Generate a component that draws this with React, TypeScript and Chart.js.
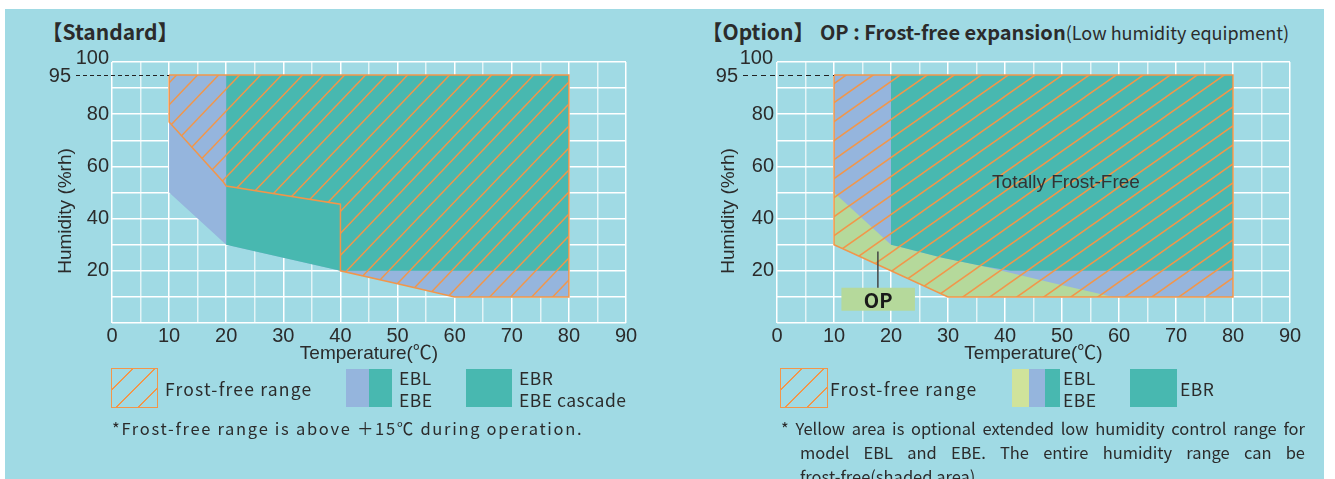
import React, { useEffect, useRef } from 'react';
import { Chart, registerables } from 'chart.js';

Chart.register(...registerables);

// ---------------- data ----------------
// axis ticks
const xTickValues = [0, 10, 20, 30, 40, 50, 60, 70, 80, 90];
const yTickValues = [20, 40, 60, 80];
const yTopTick = 100;
const maxHumidityLevel = 95;
const dashStartTemp = 10;

// Standard chart polygons: [temperature °C, humidity %rh]
const stdEblEbeArea = [[10, 95], [80, 95], [80, 10], [60, 10], [50, 15], [40, 20], [20, 30], [10, 50]];
const stdEbrArea = [[20, 95], [80, 95], [80, 20], [40, 20], [20, 30]];
const stdFrostFreeRange = [[10, 95], [80, 95], [80, 10], [60, 10], [50, 15], [40, 20], [40, 45.5], [20, 52.5], [19.5, 54], [10, 77], [10, 95]];

// Option chart polygons
const optEblEbeArea = [[10, 95], [80, 95], [80, 10], [30, 10], [20, 20], [10, 30]];
const optOpArea = [[10, 50], [20, 30], [22, 28.9], [29, 25], [36, 21.8], [48, 15.5], [59, 10], [30, 10], [20, 20], [10, 30]];
const optEbrArea = [[20, 95], [80, 95], [80, 20], [41, 20], [36, 21.8], [29, 25], [22, 28.9], [20, 30]];
const optFrostFreeRange = [[10, 95], [80, 95], [80, 10], [30, 10], [20, 20], [10, 30], [10, 95]];

// annotations (data coordinates)
const totallyFrostFreeLabel = { text: 'Totally Frost-Free', x: 50.7, y: 53.8 };
const opLabel = { text: 'OP', x0: 11.3, x1: 24.2, y0: 4.7, y1: 13.5, leaderX: 17.7, leaderTop: 27.4 };

// axis titles
const xAxisTitle = 'Temperature(℃)';
const yAxisTitle = 'Humidity (%rh)';

// ---------------- styles ----------------
const PANEL = '#A0DAE4';
const TEAL = '#48B8B0';
const BLUE = '#95B5DD';
const YELLOW = '#B5D99B';
const YELLOW_LEGEND = '#D0E39B';
const ORANGE = '#F2964A';
const TEXT = '#2b2b2b';
const TICK_FONT = '"Liberation Sans", Arial, "Noto Sans CJK JP", sans-serif';
const JP_FONT = '"Noto Sans CJK JP", "Noto Sans", sans-serif';

type Pt = number[];
type Layer = { points: Pt[]; color: string; order: number };

type Spec = {
  left: number; top: number; w: number; h: number;
  axisWidth: number; padRight: number; padTop: number; xAxisHeight: number;
  yTitlePad: number; xTitlePad: number;
  layers: Layer[];
  frost: Pt[];
  hatchW: number; hatchH: number;
  topDx: number; dashLabelDx: number; dashStartDx: number; dash: number[];
  extras?: boolean;
};

function makeHatch(w: number, h: number): CanvasPattern | string {
  const c = document.createElement('canvas');
  c.width = w;
  c.height = h;
  const g = c.getContext('2d');
  if (!g) return ORANGE;
  g.strokeStyle = ORANGE;
  g.lineWidth = 1.5;
  for (const k of [-1, 0, 1]) {
    g.beginPath();
    g.moveTo(k * w - w, 2 * h);
    g.lineTo((k + 1) * w + w, -h);
    g.stroke();
  }
  const p = g.createPattern(c, 'repeat');
  return p || ORANGE;
}

const toXY = (pts: Pt[]) => pts.map(([x, y]) => ({ x, y }));

function buildConfig(spec: Spec): any {
  const hatch = makeHatch(spec.hatchW, spec.hatchH);
  const datasets: any[] = spec.layers.map((l) => ({
    data: toXY(l.points),
    showLine: true,
    fill: 'shape',
    backgroundColor: l.color,
    borderColor: 'transparent',
    borderWidth: 0,
    pointRadius: 0,
    pointHoverRadius: 0,
    order: l.order,
  }));
  datasets.push({
    data: toXY(spec.frost),
    showLine: true,
    fill: 'shape',
    backgroundColor: hatch,
    borderColor: ORANGE,
    borderWidth: 1.5,
    pointRadius: 0,
    pointHoverRadius: 0,
    order: 0,
  });

  const overlay = {
    id: 'overlay',
    afterDatasetsDraw(chart: any) {
      const { ctx, chartArea, scales } = chart;
      const x = scales.x;
      const y = scales.y;
      ctx.save();
      ctx.fillStyle = TEXT;
      ctx.font = `20px ${TICK_FONT}`;
      ctx.textAlign = 'right';
      ctx.textBaseline = 'middle';
      ctx.fillText(String(yTopTick), chartArea.left - spec.topDx, y.getPixelForValue(yTopTick) - 4);
      ctx.fillText(String(maxHumidityLevel), chartArea.left - spec.dashLabelDx, y.getPixelForValue(maxHumidityLevel) + 1);
      const yy = Math.round(y.getPixelForValue(maxHumidityLevel)) + 0.5;
      ctx.strokeStyle = '#222';
      ctx.lineWidth = 1;
      ctx.setLineDash(spec.dash);
      ctx.beginPath();
      ctx.moveTo(chartArea.left - spec.dashStartDx, yy);
      ctx.lineTo(x.getPixelForValue(dashStartTemp), yy);
      ctx.stroke();
      ctx.setLineDash([]);
      if (spec.extras) {
        ctx.textAlign = 'center';
        ctx.font = `19px ${TICK_FONT}`;
        ctx.fillStyle = '#333';
        ctx.fillText(totallyFrostFreeLabel.text, x.getPixelForValue(totallyFrostFreeLabel.x), y.getPixelForValue(totallyFrostFreeLabel.y));
        // OP box
        const bx0 = x.getPixelForValue(opLabel.x0);
        const bx1 = x.getPixelForValue(opLabel.x1);
        const by0 = y.getPixelForValue(opLabel.y1);
        const by1 = y.getPixelForValue(opLabel.y0);
        ctx.fillStyle = YELLOW;
        ctx.fillRect(bx0, by0, bx1 - bx0, by1 - by0);
        ctx.strokeStyle = '#444';
        ctx.lineWidth = 1.5;
        ctx.beginPath();
        const lx = x.getPixelForValue(opLabel.leaderX);
        ctx.moveTo(lx, y.getPixelForValue(opLabel.leaderTop));
        ctx.lineTo(lx, by0);
        ctx.stroke();
        ctx.fillStyle = '#1a1a1a';
        ctx.font = `bold 20px ${JP_FONT}`;
        ctx.fillText(opLabel.text, (bx0 + bx1) / 2, (by0 + by1) / 2 + 1);
      }
      ctx.restore();
    },
  };

  return {
    type: 'scatter',
    data: { datasets },
    plugins: [overlay],
    options: {
      animation: false,
      responsive: false,
      devicePixelRatio: 1,
      events: [],
      layout: { padding: { left: 0, right: spec.padRight, top: spec.padTop, bottom: 0 } },
      plugins: { legend: { display: false }, tooltip: { enabled: false }, title: { display: false } },
      scales: {
        x: {
          type: 'linear',
          min: 0,
          max: 90,
          afterBuildTicks: (s: any) => {
            const t: any[] = [];
            for (let v = 0; v <= 90; v += 5) t.push({ value: v });
            s.ticks = t;
          },
          afterFit: (s: any) => {
            s.height = spec.xAxisHeight;
            s.paddingLeft = 0;
            s.paddingRight = 0;
          },
          ticks: {
            autoSkip: false,
            maxRotation: 0,
            padding: 1,
            color: TEXT,
            font: { family: TICK_FONT, size: 20 },
            callback: (v: any) => (xTickValues.includes(Number(v)) ? String(v) : ''),
          },
          grid: {
            drawTicks: false,
            lineWidth: 1.5,
            color: (c: any) => (c.tick && c.tick.value % 10 === 0 ? '#ffffff' : 'rgba(255,255,255,0.7)'),
          },
          border: { display: false },
          title: {
            display: true,
            text: xAxisTitle,
            color: TEXT,
            font: { family: TICK_FONT, size: 19 },
            padding: { top: 0, bottom: spec.xTitlePad },
          },
        },
        y: {
          type: 'linear',
          min: 0,
          max: 100,
          afterBuildTicks: (s: any) => {
            const t: any[] = [];
            for (let v = 0; v <= 100; v += 10) t.push({ value: v });
            s.ticks = t;
          },
          afterFit: (s: any) => {
            s.width = spec.axisWidth;
            s.paddingTop = 0;
            s.paddingBottom = 0;
          },
          ticks: {
            autoSkip: false,
            padding: 3,
            color: TEXT,
            font: { family: TICK_FONT, size: 20 },
            callback: (v: any) => (yTickValues.includes(Number(v)) ? String(v) : ''),
          },
          grid: { drawTicks: false, lineWidth: 1.5, color: '#ffffff' },
          border: { display: false },
          title: {
            display: true,
            // trailing spaces shift the centred rotated title downwards, as in the source
            text: yAxisTitle + '\u00a0\u00a0\u00a0\u00a0\u00a0\u00a0\u00a0',
            color: TEXT,
            font: { family: TICK_FONT, size: 19 },
            padding: { top: spec.yTitlePad, bottom: 0 },
          },
        },
      },
    },
  };
}

const leftSpec: Spec = {
  left: 0, top: 40, w: 660, h: 332,
  axisWidth: 112, padRight: 34, padTop: 22, xAxisHeight: 49,
  yTitlePad: 54.6, xTitlePad: 6.6,
  layers: [
    { points: stdEblEbeArea, color: BLUE, order: 3 },
    { points: stdEbrArea, color: TEAL, order: 2 },
  ],
  frost: stdFrostFreeRange,
  hatchW: 21, hatchH: 22,
  topDx: 3, dashLabelDx: 41, dashStartDx: 36, dash: [4, 3],
};

const rightSpec: Spec = {
  left: 680, top: 40, w: 655, h: 332,
  axisWidth: 97, padRight: 45, padTop: 22, xAxisHeight: 49,
  yTitlePad: 37.6, xTitlePad: 6.6,
  layers: [
    { points: optEblEbeArea, color: BLUE, order: 3 },
    { points: optOpArea, color: YELLOW, order: 2 },
    { points: optEbrArea, color: TEAL, order: 1 },
  ],
  frost: optFrostFreeRange,
  hatchW: 27, hatchH: 19,
  topDx: 4, dashLabelDx: 39, dashStartDx: 34, dash: [5, 4],
  extras: true,
};

function FrostChart({ spec }: { spec: Spec }) {
  const ref = useRef<HTMLCanvasElement>(null);
  useEffect(() => {
    const canvas = ref.current;
    if (!canvas) return;
    const chart = new Chart(canvas, buildConfig(spec));
    return () => chart.destroy();
  }, [spec]);
  return (
    <canvas
      ref={ref}
      width={spec.w}
      height={spec.h}
      style={{ position: 'absolute', left: spec.left, top: spec.top, width: spec.w, height: spec.h }}
    />
  );
}

const abs = (left: number, top: number, extra: React.CSSProperties = {}): React.CSSProperties => ({
  position: 'absolute',
  left,
  top,
  ...extra,
});

const hatchSwatch = (left: number, width: number, angle: number): React.CSSProperties =>
  abs(left, 368, {
    width,
    height: 40,
    boxSizing: 'border-box',
    border: `1.5px solid ${ORANGE}`,
    background: `repeating-linear-gradient(${angle}deg, transparent 0px, transparent 14px, ${ORANGE} 14px, ${ORANGE} 15.5px)`,
  });

const legendText: React.CSSProperties = {
  fontFamily: JP_FONT,
  fontSize: 17.5,
  color: TEXT,
  whiteSpace: 'nowrap',
};

export default function App() {
  return (
    <div style={{ position: 'fixed', left: 0, top: 0, width: 1335, height: 479, background: '#fff', overflow: 'hidden' }}>
      <div style={abs(5, 9, { width: 1319, height: 470, background: PANEL })} />

      {/* titles */}
      <div style={abs(52, 18, { fontFamily: JP_FONT, fontWeight: 700, fontSize: 21, lineHeight: '26px', color: TEXT, fontFeatureSettings: '"halt"', whiteSpace: 'nowrap' })}>
        【Standard】
      </div>
      <div style={abs(712, 18, { fontFamily: JP_FONT, color: TEXT, lineHeight: '26px', whiteSpace: 'nowrap', fontFeatureSettings: '"halt"' })}>
        <span style={{ fontWeight: 700, fontSize: 21 }}>【Option】</span>
        <span style={{ fontWeight: 700, fontSize: 20, marginLeft: 16 }}>OP : Frost-free expansion</span>
        <span style={{ fontSize: 18 }}>(Low humidity equipment)</span>
      </div>

      <FrostChart spec={leftSpec} />
      <FrostChart spec={rightSpec} />

      {/* left legend */}
      <div style={hatchSwatch(111, 47, 135)} />
      <div style={abs(165, 378, { ...legendText, lineHeight: '22px', letterSpacing: 1.2 })}>Frost-free range</div>
      <div style={abs(346, 369, { width: 23, height: 38, background: BLUE })} />
      <div style={abs(369, 369, { width: 23, height: 38, background: TEAL })} />
      <div style={abs(399, 367, { ...legendText, lineHeight: '21.6px', letterSpacing: 0.5 })}>EBL<br />EBE</div>
      <div style={abs(466, 369, { width: 46, height: 38, background: TEAL })} />
      <div style={abs(519, 367, { ...legendText, lineHeight: '21.6px', letterSpacing: 0.5 })}>EBR<br />EBE cascade</div>
      <div style={abs(112, 416, { ...legendText, fontSize: 16.5, lineHeight: '24px', letterSpacing: 1.7 })}>
        *Frost-free range is above ＋15℃ during operation.
      </div>

      {/* right legend */}
      <div style={hatchSwatch(780, 48, 135)} />
      <div style={abs(830, 378, { ...legendText, lineHeight: '22px', letterSpacing: 1.2 })}>Frost-free range</div>
      <div style={abs(1012, 369, { width: 17, height: 38, background: YELLOW_LEGEND })} />
      <div style={abs(1029, 369, { width: 16, height: 38, background: BLUE })} />
      <div style={abs(1045, 369, { width: 15, height: 38, background: TEAL })} />
      <div style={abs(1063, 367, { ...legendText, lineHeight: '21.6px', letterSpacing: 0.5 })}>EBL<br />EBE</div>
      <div style={abs(1130, 369, { width: 47, height: 38, background: TEAL })} />
      <div style={abs(1180, 378, { ...legendText, lineHeight: '22px', letterSpacing: 0.5 })}>EBR</div>
      <div style={abs(781, 416, { width: 524, fontFamily: JP_FONT, fontSize: 16.5, lineHeight: '24px', color: TEXT })}>
        <div style={{ textAlign: 'justify', textAlignLast: 'justify', whiteSpace: 'nowrap' }}>
          * Yellow area is optional extended low humidity control range for
        </div>
        <div style={{ marginLeft: 19, textAlign: 'justify', textAlignLast: 'justify' }}>
          model EBL and EBE. The entire humidity range can be
        </div>
        <div style={{ marginLeft: 19 }}>frost-free(shaded area)</div>
      </div>
    </div>
  );
}
